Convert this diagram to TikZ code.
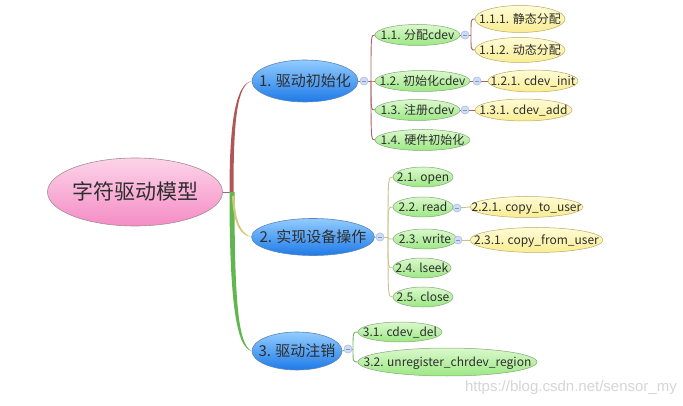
\documentclass[tikz,border=0pt]{standalone}
\usepackage{fontspec}
\setmainfont{Noto Sans CJK SC}
\newfontfamily\wmfont{Liberation Sans}
\usetikzlibrary{shapes.geometric}
\definecolor{txt}{HTML}{2E2E2E}
\definecolor{redbr}{HTML}{B05656}
\definecolor{yelbr}{HTML}{D2C878}
\definecolor{grnbr}{HTML}{62B650}
\definecolor{br1}{HTML}{A66464}
\definecolor{br2}{HTML}{C9C48E}
\definecolor{br3}{HTML}{74B466}
\definecolor{HTML-FCD4E8}{HTML}{FCD4E8}
\definecolor{HTML-F58CC6}{HTML}{F58CC6}
\definecolor{HTML-A88A98}{HTML}{A88A98}
\definecolor{HTML-92CCFF}{HTML}{92CCFF}
\definecolor{HTML-1E7AE8}{HTML}{1E7AE8}
\definecolor{HTML-5A86BA}{HTML}{5A86BA}
\definecolor{HTML-DAF8CC}{HTML}{DAF8CC}
\definecolor{HTML-9CE884}{HTML}{9CE884}
\definecolor{HTML-86A878}{HTML}{86A878}
\definecolor{HTML-FFFCD6}{HTML}{FFFCD6}
\definecolor{HTML-F8EC92}{HTML}{F8EC92}
\definecolor{HTML-BCAA66}{HTML}{BCAA66}
\definecolor{HTML-CFDCF2}{HTML}{CFDCF2}
\definecolor{HTML-A6BDE0}{HTML}{A6BDE0}
\definecolor{HTML-8098C8}{HTML}{8098C8}
\definecolor{wmgray}{HTML}{D6D6D6}
\newcommand\tx[1]{\makebox[0pt]{\smash{\raisebox{-0.37em}{#1}}}}
\tikzset{
  base/.style={ellipse, inner sep=0pt, text=txt},
  rootnode/.style={base, minimum width=175pt, minimum height=68pt, top color=HTML-FCD4E8, bottom color=HTML-F58CC6, draw=HTML-A88A98, line width=0.6pt, font=\fontsize{21}{24}\selectfont},
  lone/.style={base, top color=HTML-92CCFF, bottom color=HTML-1E7AE8, draw=HTML-5A86BA, line width=0.6pt, font=\fontsize{15}{18}\selectfont},
  ltwo/.style={base, top color=HTML-DAF8CC, bottom color=HTML-9CE884, draw=HTML-86A878, line width=0.5pt, font=\fontsize{12}{14}\selectfont},
  lthree/.style={base, top color=HTML-FFFCD6, bottom color=HTML-F8EC92, draw=HTML-BCAA66, line width=0.5pt, font=\fontsize{12}{14}\selectfont},
  tog/.style={circle, minimum size=8pt, inner sep=0pt, fill=HTML-CFDCF2, draw=HTML-A6BDE0, line width=0.4pt,
    path picture={\draw[HTML-8098C8, line width=0.5pt] ([xshift=-2.2pt]path picture bounding box.center) -- ([xshift=2.2pt]path picture bounding box.center);}},
  conn/.style={line width=0.9pt},
}
\newcommand\brc[3]{\draw[conn,#1] (#2) .. controls (#2 |- #3.west) .. (#3.west);}
\begin{document}
\begin{tikzpicture}[x=1pt,y=-1pt]
\useasboundingbox (0,0) rectangle (683,406);
\fill[white] (0,0) rectangle (683,406);

% nodes
\node[rootnode] (root) at (135,192) {\tx{字符驱动模型}};
\node[lone, minimum width=106pt, minimum height=42pt] (n1) at (305,81) {\tx{1. 驱动初始化}};
\node[lone, minimum width=123pt, minimum height=37pt] (n2) at (313,237) {\tx{2. 实现设备操作}};
\node[lone, minimum width=90pt, minimum height=38pt] (n3) at (297,351) {\tx{3. 驱动注销}};

\node[ltwo, minimum width=85pt, minimum height=21pt] (n11) at (417.5,35) {\tx{1.1. 分配cdev}};
\node[ltwo, minimum width=95pt, minimum height=21pt] (n12) at (422.5,81) {\tx{1.2. 初始化cdev}};
\node[ltwo, minimum width=85pt, minimum height=21pt] (n13) at (417.5,110) {\tx{1.3. 注册cdev}};
\node[ltwo, minimum width=95pt, minimum height=21pt] (n14) at (422.5,140) {\tx{1.4. 硬件初始化}};

\node[lthree, minimum width=90pt, minimum height=27pt] (n111) at (520,19) {\tx{1.1.1. 静态分配}};
\node[lthree, minimum width=90pt, minimum height=25pt] (n112) at (520,50) {\tx{1.1.2. 动态分配}};
\node[lthree, minimum width=90pt, minimum height=22pt] (n121) at (533,81) {\tx{1.2.1. cdev\_init}};
\node[lthree, minimum width=97pt, minimum height=22pt] (n131) at (523.5,110) {\tx{1.3.1. cdev\_add}};

\node[ltwo, minimum width=60pt, minimum height=20pt] (n21) at (423,177) {\tx{2.1. open}};
\node[ltwo, minimum width=60pt, minimum height=20pt] (n22) at (423,207) {\tx{2.2. read}};
\node[ltwo, minimum width=64pt, minimum height=20pt] (n23) at (425,239) {\tx{2.3. write}};
\node[ltwo, minimum width=58pt, minimum height=20pt] (n24) at (422,268) {\tx{2.4. lseek}};
\node[ltwo, minimum width=60pt, minimum height=20pt] (n25) at (423,297) {\tx{2.5. close}};

\node[lthree, minimum width=113pt, minimum height=21pt] (n221) at (526.5,207) {\tx{2.2.1. copy\_to\_user}};
\node[lthree, minimum width=133pt, minimum height=25pt] (n231) at (536.5,240) {\tx{2.3.1. copy\_from\_user}};

\node[ltwo, minimum width=84pt, minimum height=20pt] (n31) at (400,332) {\tx{3.1. cdev\_del}};
\node[ltwo, minimum width=179pt, minimum height=28pt] (n32) at (447.5,362) {\tx{3.2. unregister\_chrdev\_region}};

% toggles
\node[tog] (c1) at (364,81) {};
\node[tog] (c11) at (465,35) {};
\node[tog] (c12) at (477,81) {};
\node[tog] (c13) at (465,110) {};
\node[tog] (c2) at (380,237) {};
\node[tog] (c22) at (457,208) {};
\node[tog] (c23) at (458,240) {};
\node[tog] (c3) at (348,349) {};

% junctions
\coordinate (R) at (231,192);
\coordinate (J1) at (371,81);
\coordinate (J11) at (471,35);
\coordinate (J2) at (388,237);
\coordinate (J3) at (353,349);

% root branches (tapered)
\draw[HTML-A88A98!80!black, line width=0.6pt] (root.east) -- (R);
\fill[redbr] (229.5,192) .. controls (229.5,120) and (236,84) .. (n1.west) .. controls (237,85) and (233.5,120) .. (233.5,192) -- cycle;
\fill[grnbr] (229.5,192) .. controls (229.5,300) and (236,348) .. (n3.west) .. controls (238,345) and (234.5,300) .. (234.5,192) -- cycle;
\fill[yelbr] (232,196) .. controls (233,222) and (240,236) .. (n2.west) .. controls (241,233) and (235,222) .. (234.5,196) -- cycle;

% branch 1
\draw[conn,br1] (n1.east) -- (c1);
\draw[conn,br1] (c1) -- (J1);
\brc{br1}{J1}{n11}
\brc{br1}{J1}{n12}
\brc{br1}{J1}{n13}
\brc{br1}{J1}{n14}
\draw[conn,br1] (n11.east) -- (c11);
\draw[conn,br1] (c11) -- (J11);
\brc{br1}{J11}{n111}
\brc{br1}{J11}{n112}
\draw[conn,br1] (n12.east) -- (c12);
\draw[conn,br1] (c12) -- (n121.west);
\draw[conn,br1] (n13.east) -- (c13);
\draw[conn,br1] (c13) -- (n131.west);

% branch 2
\draw[conn,br2] (n2.east) -- (c2);
\draw[conn,br2] (c2) -- (J2);
\brc{br2}{J2}{n21}
\brc{br2}{J2}{n22}
\brc{br2}{J2}{n23}
\brc{br2}{J2}{n24}
\brc{br2}{J2}{n25}
\draw[conn,br2] (n22.east) -- (c22);
\draw[conn,br2] (c22) -- (n221.west);
\draw[conn,br2] (n23.east) -- (c23);
\draw[conn,br2] (c23) -- (n231.west);

% branch 3
\draw[conn,br3] (n3.east) -- (c3);
\draw[conn,br3] (c3) -- (J3);
\brc{br3}{J3}{n31}
\brc{br3}{J3}{n32}

% redraw toggles on top
\node[tog] at (c1) {};
\node[tog] at (c11) {};
\node[tog] at (c12) {};
\node[tog] at (c13) {};
\node[tog] at (c2) {};
\node[tog] at (c22) {};
\node[tog] at (c23) {};
\node[tog] at (c3) {};

% watermark
\node[text=wmgray, font=\wmfont\fontsize{15}{17}\selectfont, inner sep=0pt, anchor=east] (wm) at (677,388) {https://blog.csdn.net/sensor\_my};
\end{tikzpicture}
\end{document}
